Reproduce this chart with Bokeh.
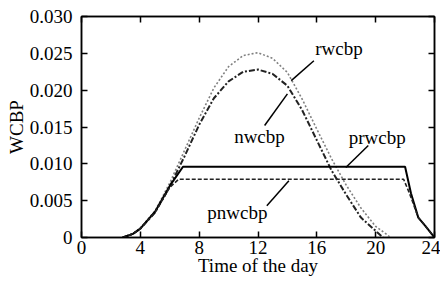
from bokeh.plotting import figure
from bokeh.models import (LinearAxis, FixedTicker, CustomJSTickFormatter, Range1d)
from bokeh.core.properties import value
from bokeh.embed import file_html
from bokeh.resources import INLINE

# ---- data ----
r_t = [2.8, 3.5, 4, 5, 6, 7, 8, 9, 10, 11, 12, 13, 14, 15, 16, 17, 18, 19, 20, 20.7, 21]
r_v = [0, 0.0005, 0.0013, 0.0036, 0.0074, 0.0118, 0.0162, 0.0203, 0.0232, 0.0247, 0.0251,
       0.0243, 0.0224, 0.0188, 0.0147, 0.0107, 0.0071, 0.0040, 0.0015, 0.0005, 0]

n_t = [2.8, 3.5, 4, 5, 6, 7, 8, 9, 10, 11, 12, 13, 14, 15, 16, 17, 18, 19, 20, 20.5]
n_v = [0, 0.0005, 0.0012, 0.0034, 0.0069, 0.0110, 0.0153, 0.0189, 0.0212, 0.0225, 0.0228,
       0.0222, 0.0206, 0.0173, 0.0132, 0.0091, 0.0058, 0.0027, 0.0009, 0]

pr_t = [2.8, 3.5, 4, 5, 6, 6.9, 22.0, 22.4, 22.9, 23.4, 24]
pr_v = [0, 0.0005, 0.0012, 0.0035, 0.0070, 0.0096, 0.0096, 0.0060, 0.0027, 0.0015, 0]

pn_t = [2.8, 3.5, 4, 5, 6, 6.6, 21.9, 22.3, 22.9, 23.4, 24]
pn_v = [0, 0.0005, 0.0012, 0.0034, 0.0068, 0.0079, 0.0079, 0.0060, 0.0027, 0.0015, 0]

x_ticks = [0, 4, 8, 12, 16, 20, 24]
y_ticks = [0, 0.005, 0.010, 0.015, 0.020, 0.025, 0.030]

# annotation labels and leader lines (data coordinates)
lab_text = ["rwcbp", "nwcbp", "prwcbp", "pnwcbp"]
lab_t = [17.5, 12.1, 20.1, 10.6]
lab_v = [0.0257, 0.0137, 0.0136, 0.0034]
lead_t0 = [15.8, 12.45, 19.5, 12.6]
lead_v0 = [0.0240, 0.0152, 0.0125, 0.0043]
lead_t1 = [14.26, 14.0, 17.97, 14.1]
lead_v1 = [0.0213, 0.0195, 0.0095, 0.0077]

FONT = "Liberation Serif"
FS = "19px"

p = figure(width=440, height=278, output_backend="svg", toolbar_location=None,
           x_range=Range1d(0, 24), y_range=Range1d(0, 0.030),
           x_axis_label="Time of the day", y_axis_label="WCBP",
           min_border_left=81, min_border_right=6, min_border_top=16, min_border_bottom=0)
p.grid.visible = False
p.outline_line_color = "black"
p.outline_line_width = 1.5
p.background_fill_color = "white"
p.border_fill_color = "white"

for ax in p.xaxis:
    ax.ticker = FixedTicker(ticks=x_ticks)
for ax in p.yaxis:
    ax.ticker = FixedTicker(ticks=y_ticks)
    ax.formatter = CustomJSTickFormatter(code="return tick == 0 ? '0' : tick.toFixed(3);")

for ax in list(p.xaxis) + list(p.yaxis):
    ax.major_label_text_font = FONT
    ax.major_label_text_font_size = FS
    ax.major_label_text_color = "black"
    ax.axis_label_text_font = FONT
    ax.axis_label_text_font_size = FS
    ax.axis_label_text_font_style = "normal"
    ax.axis_label_text_color = "black"
    ax.axis_line_width = 1.5
    ax.major_tick_line_width = 1.5
    ax.major_tick_in = 6
    ax.major_tick_out = 0
    ax.minor_tick_line_color = None

p.xaxis.major_label_standoff = 3
p.xaxis.axis_label_standoff = -2
p.yaxis.major_label_standoff = 9
p.yaxis.axis_label_standoff = 0

blank = CustomJSTickFormatter(code="return '';")
top = LinearAxis(ticker=FixedTicker(ticks=x_ticks), formatter=blank,
                 major_tick_in=6, major_tick_out=0, minor_tick_line_color=None,
                 axis_line_width=1.5, major_tick_line_width=1.5, major_label_standoff=0)
right = LinearAxis(ticker=FixedTicker(ticks=y_ticks), formatter=blank,
                   major_tick_in=6, major_tick_out=0, minor_tick_line_color=None,
                   axis_line_width=1.5, major_tick_line_width=1.5, major_label_standoff=0)
p.add_layout(top, "above")
p.add_layout(right, "right")

p.line(r_t, r_v, line_color="#808080", line_width=1.6, line_dash="2 2")
p.line(n_t, n_v, line_color="#222222", line_width=2, line_dash="6 2 2 2")
p.line(pr_t, pr_v, line_color="black", line_width=2)
p.line(pn_t, pn_v, line_color="#222222", line_width=1.6, line_dash="4 2")

p.segment(x0=lead_t0, y0=lead_v0, x1=lead_t1, y1=lead_v1, line_color="black", line_width=1.5)
p.text(x=lab_t, y=lab_v, text=lab_text, text_font=value(FONT), text_font_size=FS,
       text_align="center", text_baseline="middle", text_color="black")

open("out.html", "w").write(file_html(p, INLINE))
